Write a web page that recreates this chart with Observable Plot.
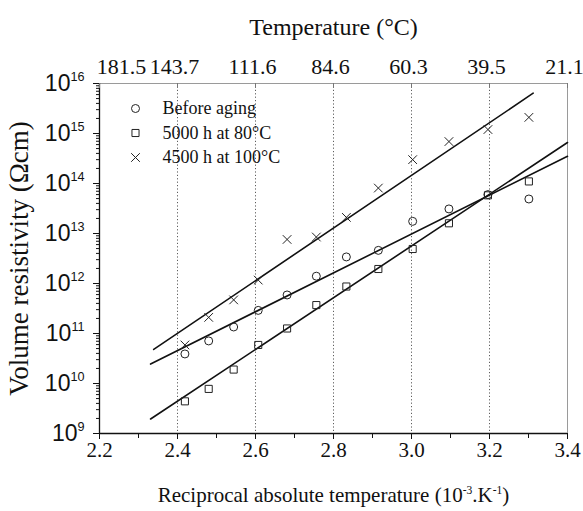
<!DOCTYPE html>
<html><head><meta charset="utf-8">
<script src="https://cdn.jsdelivr.net/npm/d3@7"></script>
<script src="https://cdn.jsdelivr.net/npm/@observablehq/plot@0.6"></script>
<style>body{margin:0;background:#fff} svg{display:block;background:#fff}</style>
</head><body><div id="chart"></div>
<script>
// ---- data ----
const recipT = [2.419, 2.480, 2.544, 2.607, 2.681, 2.756, 2.833, 2.915, 3.003, 3.096, 3.196, 3.301];
const beforeAging = [3.9e10, 7.1e10, 1.35e11, 2.9e11, 5.9e11, 1.4e12, 3.4e12, 4.6e12, 1.75e13, 3.1e13, 6.0e13, 4.9e13];
const aged5000h80 = [4.4e9, 7.8e9, 1.9e10, 5.9e10, 1.26e11, 3.7e11, 8.7e11, 1.95e12, 4.9e12, 1.6e13, 5.8e13, 1.1e14];
const aged4500h100 = [5.9e10, 2.1e11, 4.7e11, 1.17e12, 7.6e12, 8.5e12, 2.1e13, 8.1e13, 3.0e14, 6.9e14, 1.2e15, 2.1e15];

// fitted lines (end points)
const fitBeforeX = [2.331, 3.40], fitBeforeY = [2.45e10, 3.5e14];
const fit80X = [2.331, 3.40], fit80Y = [1.95e9, 6.6e14];
const fit100X = [2.339, 3.312], fit100Y = [4.8e10, 6.4e15];

const seriesNames = ["Before aging", "5000 h at 80°C", "4500 h at 100°C"];
const seriesSymbols = ["circle", "square", "times"];

const xTicks = [2.2, 2.4, 2.6, 2.8, 3.0, 3.2, 3.4];
const xMinorTicks = [2.3, 2.5, 2.7, 2.9, 3.1, 3.3];
const xTickLabels = ["2.2", "2.4", "2.6", "2.8", "3.0", "3.2", "3.4"];
const tempLabels = ["181.5", "143.7", "111.6", "84.6", "60.3", "39.5", "21.1"];
const gridLines = [2.4, 2.6, 2.8, 3.0, 3.2];
const yExponents = [9, 10, 11, 12, 13, 14, 15, 16];
const yMinorMultipliers = [2, 3, 4, 5, 6, 7, 8, 9];

const titleTop = "Temperature (°C)";
const titleY = "Volume resistivity (Ωcm)";
const titleX = "Reciprocal absolute temperature (10^-3.K^-1)";

// ---- build tables ----
const yTicks = yExponents.map(e => Math.pow(10, e));
const yMinor = yExponents.slice(0, -1).flatMap(e => yMinorMultipliers.map(m => m * Math.pow(10, e)));
const seriesValues = [beforeAging, aged5000h80, aged4500h100];
const points = seriesValues.flatMap((vals, s) => vals.map((v, i) => ({x: recipT[i], y: v, s})));
const fits = [[fitBeforeX, fitBeforeY], [fit80X, fit80Y], [fit100X, fit100Y]]
  .flatMap(([xs, ys], s) => xs.map((x, i) => ({x, y: ys[i], s})));

const serif = "Liberation Serif, Times New Roman, serif";
const sans = "Liberation Sans, Arial, sans-serif";

const W = 583, H = 511, mL = 99, mR = 16, mT = 83, mB = 78;
const frameH = H - mT - mB;

const legendMarks = seriesNames.flatMap((name, i) => [
  Plot.dot([name], {frameAnchor: "top-left", dx: 36, dy: 25 + i * 24.5, symbol: seriesSymbols[i], r: 4, stroke: "#222", strokeWidth: 1, fill: "none"}),
  Plot.text([name], {frameAnchor: "top-left", dx: 63, dy: 25 + i * 24.5, text: d => d, textAnchor: "start", lineAnchor: "middle", fontSize: 18, fontFamily: serif, fill: "#111"})
]);

const chart = Plot.plot({
  width: W, height: H,
  marginLeft: mL, marginRight: mR, marginTop: mT, marginBottom: mB,
  style: {background: "#fff", color: "#111"},
  x: {domain: [2.2, 3.4]},
  y: {type: "log", domain: [1e9, 1e16]},
  symbol: {domain: [0, 1, 2], range: seriesSymbols},
  marks: [
    Plot.ruleX(gridLines, {x: d => d, stroke: "#333", strokeWidth: 0.8, strokeDasharray: "1.2,2.2"}),
    Plot.frame({stroke: "#9a9a9a", strokeWidth: 1}),
    Plot.ruleX([2.2], {x: d => d, stroke: "#111", strokeWidth: 1.3}),
    Plot.ruleY([1e9], {y: d => d, stroke: "#111", strokeWidth: 1.3}),
    // bottom axis ticks
    Plot.axisX(xTicks, {tickSize: 6, tickFormat: () => null, label: null, stroke: "#111"}),
    Plot.axisX(xMinorTicks, {tickSize: 5, tickFormat: () => null, label: null, stroke: "#111"}),
    Plot.text(xTicks, {x: d => d, frameAnchor: "bottom", dy: 17, lineAnchor: "middle", text: (d, i) => xTickLabels[i], fontSize: 21, fontFamily: serif, fill: "#111"}),
    // top axis (temperature)
    Plot.tickX(xTicks, {x: d => d, insetBottom: frameH - 5, stroke: "#777"}),
    Plot.text(xTicks.slice(0, 1), {x: d => d, frameAnchor: "top", dy: -17, dx: 22, lineAnchor: "middle", text: (d, i) => tempLabels[i], fontSize: 22, fontFamily: serif, fill: "#111"}),
    Plot.text(xTicks.slice(1), {x: d => d, frameAnchor: "top", dy: -17, dx: -3, lineAnchor: "middle", text: (d, i) => tempLabels[i + 1], fontSize: 22, fontFamily: serif, fill: "#111"}),
    Plot.text([titleTop], {frameAnchor: "top", dy: -56, lineAnchor: "middle", text: d => d, fontSize: 24, fontFamily: serif, fill: "#111"}),
    // left axis
    Plot.axisY(yTicks, {tickSize: 6, tickFormat: () => null, label: null, stroke: "#111"}),
    Plot.axisY(yMinor, {tickSize: 3, tickFormat: () => null, label: null, stroke: "#111"}),
    Plot.text(yTicks, {y: d => d, frameAnchor: "left", dx: -15, textAnchor: "end", lineAnchor: "middle", text: d => "10^" + Math.round(Math.log10(d)), fontSize: 23, fontFamily: sans, fill: "#111"}),
    Plot.text([titleY], {frameAnchor: "left", dx: -80, rotate: -90, textAnchor: "middle", lineAnchor: "middle", text: d => d, fontSize: 27, fontFamily: serif, fill: "#111"}),
    Plot.text([titleX], {frameAnchor: "bottom", dy: 62, lineAnchor: "middle", text: d => d, fontSize: 21, fontFamily: serif, fill: "#111"}),
    // fitted lines
    Plot.line(fits, {x: "x", y: "y", z: "s", stroke: "#111", strokeWidth: 1.6}),
    // data points
    Plot.dot(points, {x: "x", y: "y", symbol: "s", r: 4, stroke: "#222", strokeWidth: 1, fill: "none"}),
    ...legendMarks
  ]
});

// superscripts for the exponent labels
function withSup(textEl, parts) {
  textEl.textContent = "";
  const ns = "http://www.w3.org/2000/svg";
  for (const [str, sup] of parts) {
    const t = document.createElementNS(ns, "tspan");
    t.textContent = str;
    if (sup === 1) { t.setAttribute("font-size", "0.55em"); t.setAttribute("dy", "-0.75em"); }
    if (sup === -1) { t.setAttribute("dy", "0.41em"); }
    textEl.appendChild(t);
  }
}
chart.querySelectorAll("text").forEach(t => {
  const s = t.textContent;
  if (s.startsWith("Reciprocal")) {
    withSup(t, [["Reciprocal absolute temperature (10", 0], ["-3", 1], [".K", -1], ["-1", 1], [")", -1]]);
  } else if (/^10\^\d+$/.test(s)) {
    const [base, exp] = s.split("^");
    withSup(t, [[base, 0], [exp, 1]]);
  }
});
document.getElementById("chart").appendChild(chart);
</script>
</body></html>
